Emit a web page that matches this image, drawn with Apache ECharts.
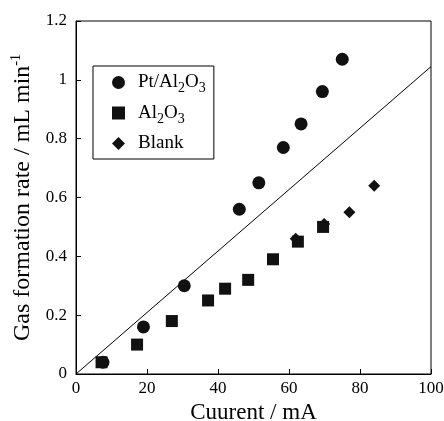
<!DOCTYPE html>
<html>
<head>
<meta charset="utf-8">
<script src="https://cdn.jsdelivr.net/npm/echarts@6/dist/echarts.min.js"></script>
<style>
  html, body { margin: 0; padding: 0; background: #fff; }
  #chart { width: 444px; height: 421px; }
</style>
</head>
<body>
<div id="chart"></div>
<script>
// Pt/Al2O3 catalyst
const ptAl2o3 = [[7.6, 0.04], [19, 0.16], [30.5, 0.30], [46, 0.56], [51.5, 0.65], [58.4, 0.77], [63.4, 0.85], [69.4, 0.96], [75, 1.07]]
// Al2O3 only
const al2o3 = [[7.2, 0.04], [17.2, 0.10], [27, 0.18], [37.2, 0.25], [42, 0.29], [48.5, 0.32], [55.5, 0.39], [62.5, 0.45], [69.6, 0.50]]
// no catalyst
const blank = [[61.9, 0.46], [69.9, 0.51], [77, 0.55], [84, 0.64]]
// theoretical line
const theory = [[0, 0], [100, 1.045]]

const font = 'Liberation Serif'

const legendText = {
  'Pt/Al2O3': '{f|Pt/Al}{s|2}{n|O}{s|3}',
  'Al2O3': '{f|Al}{s|2}{n|O}{s|3}',
  'Blank': '{f|Blank}',
}

let chart = echarts.init(document.getElementById('chart'))

chart.setOption({
  animation: false,
  backgroundColor: '#fff',
  textStyle: { fontFamily: font, color: '#000' },
  grid: {
    left: 76,
    right: 13,
    top: 21,
    bottom: 47,
    outerBoundsMode: 'none',
    containLabel: false,
    show: true,
    borderColor: '#000',
    borderWidth: 1,
  },
  legend: {
    data: ['Pt/Al2O3', 'Al2O3', 'Blank'],
    orient: 'vertical',
    left: 93,
    top: 66,
    padding: [7, 8, 6, 19],
    itemWidth: 13,
    itemHeight: 13,
    itemGap: 8,
    borderColor: '#000',
    borderWidth: 1,
    borderRadius: 0,
    formatter: name => legendText[name],
    textStyle: {
      fontFamily: font,
      color: '#000',
      rich: {
        f: { fontFamily: font, fontSize: 19, color: '#000', padding: [0, 0, 0, 8] },
        n: { fontFamily: font, fontSize: 19, color: '#000' },
        s: { fontFamily: font, fontSize: 14, color: '#000', padding: [12, 0, 0, 0] },
      },
    },
  },
  xAxis: {
    type: 'value',
    min: 0,
    max: 100,
    interval: 20,
    name: 'Cuurent / mA',
    nameLocation: 'middle',
    nameGap: 27,
    nameTextStyle: { fontFamily: font, fontSize: 23, color: '#000' },
    axisLine: { lineStyle: { color: '#000', width: 1 } },
    axisTick: { inside: true, length: 5, lineStyle: { color: '#000' } },
    axisLabel: { fontFamily: font, fontSize: 17, color: '#000', margin: 6 },
    splitLine: { show: false },
  },
  yAxis: {
    type: 'value',
    min: 0,
    max: 1.2,
    interval: 0.2,
    name: '{a|Gas formation rate / mL min}{b|-1}',
    nameLocation: 'middle',
    nameGap: 38,
    nameTextStyle: {
      fontFamily: font,
      color: '#000',
      rich: {
        a: { fontFamily: font, fontSize: 24, color: '#000' },
        b: { fontFamily: font, fontSize: 14, color: '#000', padding: [0, 0, 14, 0] },
      },
    },
    axisLine: { lineStyle: { color: '#000', width: 1 } },
    axisTick: { inside: true, length: 5, lineStyle: { color: '#000' } },
    axisLabel: { fontFamily: font, fontSize: 17, color: '#000', margin: 9 },
    splitLine: { show: false },
  },
  series: [
    {
      name: 'Pt/Al2O3',
      type: 'scatter',
      data: ptAl2o3,
      symbol: 'circle',
      symbolSize: 13,
      itemStyle: { color: '#111', opacity: 1 },
      z: 2,
    },
    {
      name: 'Al2O3',
      type: 'scatter',
      data: al2o3,
      symbol: 'rect',
      symbolSize: 12,
      itemStyle: { color: '#111', opacity: 1 },
      z: 4,
    },
    {
      name: 'Blank',
      type: 'scatter',
      data: blank,
      symbol: 'diamond',
      symbolSize: 12,
      itemStyle: { color: '#111', opacity: 1 },
      z: 3,
    },
    {
      name: 'theory',
      type: 'line',
      data: theory,
      showSymbol: false,
      lineStyle: { color: '#000', width: 1 },
      z: 1,
    },
  ],
})
</script>
</body>
</html>
